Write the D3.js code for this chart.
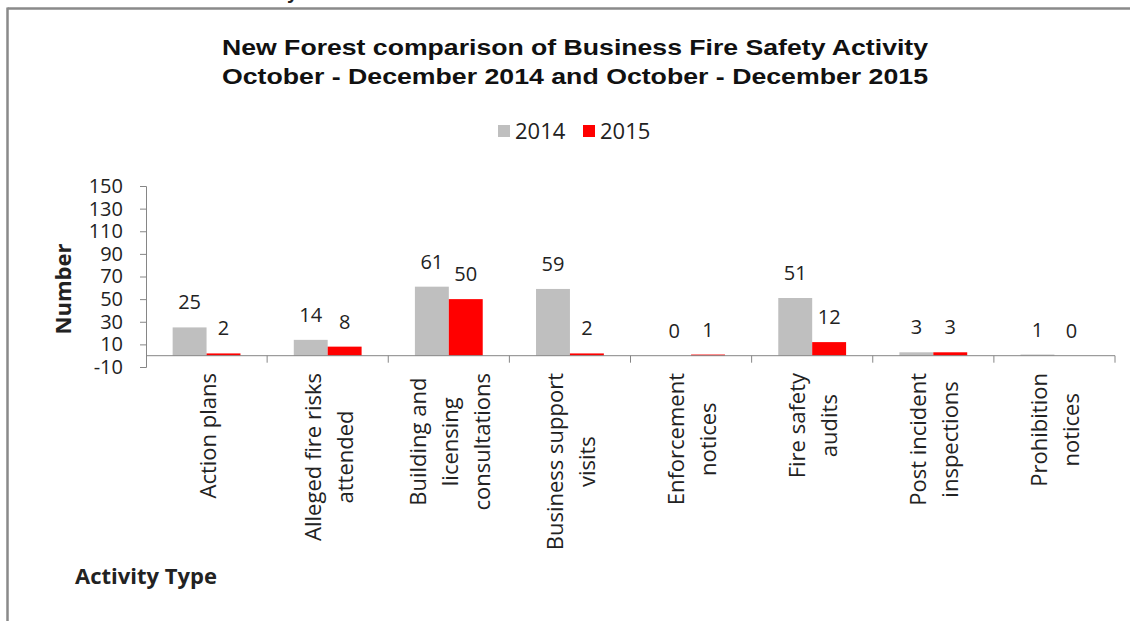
<!DOCTYPE html>
<html>
<head>
<meta charset="utf-8">
<script src="https://cdn.jsdelivr.net/npm/d3@7"></script>
<style>
  body { margin: 0; background: #fff; }
  text { font-family: "Open Sans", sans-serif; fill: #222; }
</style>
</head>
<body>
<div id="mycanvas"></div>
<script>
const width = 1130;
const height = 621;

// data
const categories = [
  ["Action plans"],
  ["Alleged fire risks", "attended"],
  ["Building and", "licensing", "consultations"],
  ["Business support", "visits"],
  ["Enforcement", "notices"],
  ["Fire safety", "audits"],
  ["Post incident", "inspections"],
  ["Prohibition", "notices"]
];
const seriesNames = ["2014", "2015"];
const values2014 = [25, 14, 61, 59, 0, 51, 3, 1];
const values2015 = [2, 8, 50, 2, 1, 12, 3, 0];
const yTicks = [-10, 10, 30, 50, 70, 90, 110, 130, 150];
const colors = ["#bfbfbf", "#ff0000"];
const titleLines = [
  "New  Forest comparison of Business Fire Safety Activity",
  "October - December 2014 and October - December 2015"
];

const catKeys = categories.map((c) => c.join(" "));
const rows = catKeys.map((k, i) => ({ key: k, vals: [values2014[i], values2015[i]] }));

const svg = d3
  .select("#mycanvas")
  .append("svg")
  .attr("width", width)
  .attr("height", height);

// frame
svg.append("line")
  .attr("x1", 7.5).attr("x2", 7.5).attr("y1", 7.5).attr("y2", height)
  .attr("stroke", "#8a8a8a").attr("stroke-width", 2.5);
svg.append("line")
  .attr("x1", 7.5).attr("x2", width).attr("y1", 8.5).attr("y2", 8.5)
  .attr("stroke", "#8a8a8a").attr("stroke-width", 2.5);

// clipped letter above the frame
svg.append("text")
  .attr("x", 287).attr("y", -1)
  .style("font-family", "Liberation Sans, Arial, sans-serif")
  .style("font-weight", "bold").style("font-size", "20px")
  .text("y");

// title
svg.selectAll(".title")
  .data(titleLines)
  .join("text")
  .attr("class", "title")
  .attr("x", 222)
  .attr("y", (d, i) => 55 + i * 29)
  .attr("textLength", 706)
  .attr("lengthAdjust", "spacingAndGlyphs")
  .style("font-family", "Liberation Sans, Arial, sans-serif")
  .style("font-weight", "bold")
  .style("font-size", "22px")
  .style("fill", "#111")
  .text((d) => d);

// legend
const legendX = [498, 583];
const legend = svg.append("g");
seriesNames.forEach((name, i) => {
  legend.append("rect")
    .attr("x", legendX[i]).attr("y", 125)
    .attr("width", 12).attr("height", 12)
    .attr("fill", colors[i]);
  legend.append("text")
    .attr("x", legendX[i] + 17).attr("y", 139)
    .style("font-size", "22px")
    .text(name);
});

const x = d3.scaleBand()
  .domain(catKeys)
  .range([146, 1115])
  .paddingInner(0.44)
  .paddingOuter(0.22);

const x1 = d3.scaleBand()
  .domain(seriesNames)
  .range([0, x.bandwidth()]);

const y = d3.scaleLinear()
  .domain([-10, 150])
  .range([367, 186]);

// bars
const groups = svg.append("g")
  .selectAll("g")
  .data(rows)
  .join("g")
  .attr("transform", (d) => `translate(${x(d.key)} 0)`);

groups.selectAll("rect")
  .data((d) => d.vals.map((v, i) => ({ v, s: seriesNames[i], i })))
  .join("rect")
  .attr("x", (d) => x1(d.s))
  .attr("y", (d) => y(d.v))
  .attr("width", x1.bandwidth())
  .attr("height", (d) => y(0) - y(d.v))
  .attr("fill", (d) => colors[d.i]);

groups.selectAll("text")
  .data((d) => d.vals.map((v, i) => ({ v, s: seriesNames[i] })))
  .join("text")
  .attr("x", (d) => x1(d.s) + x1.bandwidth() / 2)
  .attr("y", (d) => y(d.v) - 18)
  .attr("text-anchor", "middle")
  .style("font-size", "20px")
  .text((d) => d.v);

// y axis
const yAxis = svg.append("g")
  .attr("transform", "translate(146 0)")
  .call(d3.axisLeft(y).tickValues(yTicks).tickSize(6).tickPadding(17)
    .tickFormat((d) => String(d)));
yAxis.select(".domain").attr("stroke", "#868686");
yAxis.selectAll(".tick line").attr("stroke", "#868686");
yAxis.selectAll(".tick text")
  .style("font-family", "Open Sans, sans-serif")
  .style("font-size", "20px")
  .attr("fill", "#222");

// x axis at zero with ticks between categories
const xAxisG = svg.append("g");
xAxisG.append("line")
  .attr("x1", 146).attr("x2", 1115)
  .attr("y1", y(0)).attr("y2", y(0))
  .attr("stroke", "#868686");
const step = x.step();
xAxisG.selectAll(".sep")
  .data(catKeys)
  .join("line")
  .attr("class", "sep")
  .attr("x1", (d) => x(d) - x.paddingOuter() * step + step)
  .attr("x2", (d) => x(d) - x.paddingOuter() * step + step)
  .attr("y1", y(0)).attr("y2", y(0) + 7)
  .attr("stroke", "#868686");

// category labels
const catG = svg.append("g")
  .selectAll("g")
  .data(categories)
  .join("g");

catG.each(function (lines, i) {
  const g = d3.select(this);
  const cx = x(catKeys[i]) + x.bandwidth() / 2;
  const texts = g.selectAll("text")
    .data(lines)
    .join("text")
    .attr("text-anchor", "middle")
    .attr("y", (d, j) => (j - (lines.length - 1) / 2) * 32 + 9)
    .style("font-size", "22px")
    .text((d) => d);
  let maxLen = 0;
  texts.each(function () { maxLen = Math.max(maxLen, this.getComputedTextLength()); });
  g.attr("transform", `translate(${cx} ${373 + maxLen / 2}) rotate(-90)`);
});

// axis titles
svg.append("text")
  .attr("transform", "translate(71 289) rotate(-90)")
  .attr("text-anchor", "middle")
  .style("font-size", "22px")
  .style("font-weight", "bold")
  .text("Number");

svg.append("text")
  .attr("x", 75).attr("y", 584)
  .style("font-size", "22px")
  .style("font-weight", "bold")
  .text("Activity Type");
</script>
</body>
</html>
